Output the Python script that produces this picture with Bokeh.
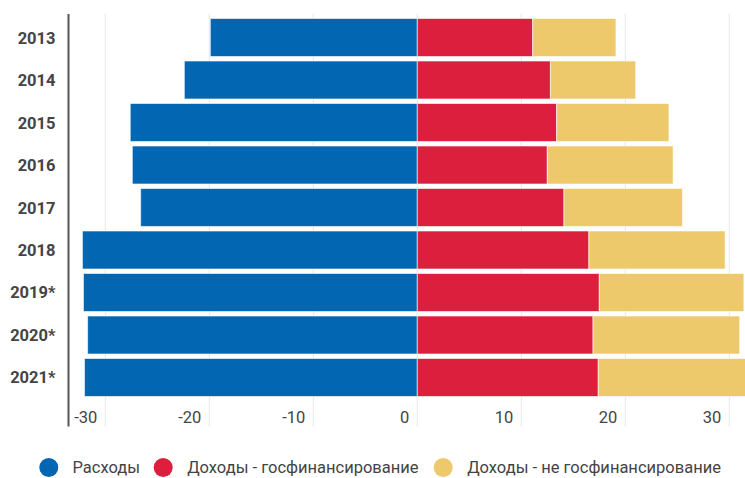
from bokeh.plotting import figure
from bokeh.models import Range1d, ColumnDataSource
from bokeh.core.properties import value
from bokeh.embed import file_html
from bokeh.resources import INLINE

# ---- data ----
years = ["2013", "2014", "2015", "2016", "2017", "2018", "2019*", "2020*", "2021*"]
expenses = [-19.9, -22.4, -27.6, -27.4, -26.6, -32.2, -32.1, -31.7, -32.0]
income_gov = [11.1, 12.8, 13.4, 12.5, 14.1, 16.5, 17.5, 16.9, 17.4]
income_nongov = [8.0, 8.2, 10.8, 12.1, 11.4, 13.1, 13.9, 14.1, 14.5]
x_ticks = [-30, -20, -10, 0, 10, 20, 30]
x_tick_labels = ["-30", "-20", "-10", "0", "10", "20", "30"]
series_names = ["Расходы", "Доходы - госфинансирование", "Доходы - не госфинансирование"]
colors = ["#0366b3", "#db1f3c", "#eec96b"]

# ---- layout / style ----
W, H = 745, 478
FONT = "Roboto"
TXT = "#444444"
ZERO_PX, PX_PER_UNIT = 416.8, 10.4      # horizontal pixel scale
ROW0_PX, ROW_PX = 37.0, 42.5            # vertical pixel scale


def xd(px):
    return (px - ZERO_PX) / PX_PER_UNIT


def yd(py):
    return (py - ROW0_PX) / ROW_PX


idx = list(range(len(years)))
total_end = [g + n for g, n in zip(income_gov, income_nongov)]
zeros = [0] * len(years)
src = ColumnDataSource(dict(y=idx, exp=expenses, zero=zeros, gov=income_gov, tot=total_end))

p = figure(width=W, height=H, output_backend="svg", toolbar_location=None,
           x_range=Range1d(xd(0), xd(W)), y_range=Range1d(yd(H), yd(0)),
           x_axis_location=None, y_axis_location=None, min_border=0)
p.outline_line_color = None
p.grid.visible = False
p.background_fill_color = "white"

frame_top, frame_bottom, frame_left = yd(13.5), yd(426), xd(68)

# vertical grid lines at the ticks
p.segment(x0=x_ticks, x1=x_ticks, y0=[frame_top] * len(x_ticks), y1=[frame_bottom] * len(x_ticks),
          line_color="#e6e6e6", line_width=1)

# stacked bars
bh = 0.894
kw = dict(source=src, height=bh, line_color="white", line_alpha=0.6, line_width=1)
p.hbar(y="y", left="exp", right="zero", fill_color=colors[0], **kw)
p.hbar(y="y", left="zero", right="gov", fill_color=colors[1], **kw)
p.hbar(y="y", left="gov", right="tot", fill_color=colors[2], **kw)

# y axis line
p.segment(x0=[frame_left], x1=[frame_left], y0=[frame_top], y1=[frame_bottom],
          line_color="#555555", line_width=2)

# year labels
p.text(x=[xd(55)] * len(years), y=idx, text=years, text_align="right", text_baseline="middle",
       text_font=value(FONT), text_font_size="16.5px", text_font_style="bold", text_color=TXT)

# x tick labels, right-aligned just left of each grid line
p.text(x=x_ticks, y=[yd(416)] * len(x_ticks), text=x_tick_labels, text_align="right",
       text_baseline="middle", x_offset=-8, text_font=value(FONT), text_font_size="16.5px",
       text_color=TXT)

# legend
circle_px = [48.3, 162.7, 442.7]
text_px = [72.0, 186.7, 466.7]
ly = yd(467)
p.scatter(x=[xd(v) for v in circle_px], y=[ly] * 3, size=19, fill_color=colors, line_color=None)
p.text(x=[xd(v) for v in text_px], y=[ly] * 3, text=series_names, text_baseline="middle",
       text_font=value(FONT), text_font_size="16.5px", text_color=TXT)

open("out.html", "w").write(file_html(p, INLINE))
